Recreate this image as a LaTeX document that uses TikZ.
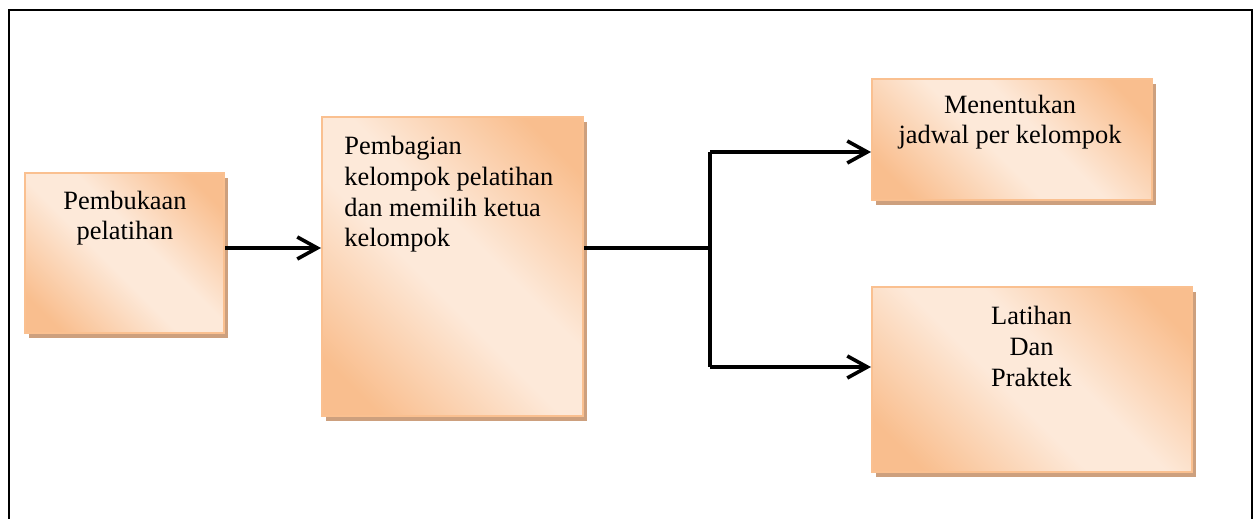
\documentclass[tikz,border=0pt]{standalone}
\usepackage{fontspec}
\setmainfont{Liberation Serif}
\usetikzlibrary{arrows.meta,shadows}
\definecolor{pkdark}{HTML}{F9BE8E}
\definecolor{pklight}{HTML}{FDE9D9}
\definecolor{pkborder}{HTML}{FAC090}
\definecolor{pkshadow}{HTML}{CDA07E}
\pgfdeclareverticalshading{peach}{100bp}{color(0bp)=(pkdark); color(22bp)=(pkdark); color(45bp)=(pklight); color(56bp)=(pklight); color(78bp)=(pkdark); color(100bp)=(pkdark)}
\tikzset{
  boxstyle/.style={rectangle, draw=pkborder, line width=1pt, shading=peach, shading angle=-45,
    drop shadow={shadow xshift=2pt, shadow yshift=-2.5pt, fill=pkshadow, opacity=1}, inner sep=0pt},
  txt/.style={font=\fontsize{13.2}{15.4}\selectfont, inner sep=0pt, anchor=base},
  conn/.style={line width=1.8pt, black},
  arr/.style={conn, -{Straight Barb[length=10pt,width=11pt,line join=miter]}},
}
\begin{document}
\begin{tikzpicture}[x=0.5pt,y=-0.5pt]
\useasboundingbox (0,0) rectangle (1254,519);
\draw[line width=1.2pt] (9,519) -- (9,10) -- (1252,10) -- (1252,519);
\node[boxstyle, minimum width=99.5pt, minimum height=80pt] (b1) at (124.5,253) {};
\node[boxstyle, minimum width=130.5pt, minimum height=149.5pt] (b2) at (452.5,266.5) {};
\node[boxstyle, minimum width=140pt, minimum height=60.5pt] (b3) at (1012,139.5) {};
\node[boxstyle, minimum width=160pt, minimum height=92.5pt] (b4) at (1032,379.5) {};
\node[txt, align=center] (t1) at (125,240) {Pembukaan\\pelatihan};
\node[txt, align=left, anchor=base west] (t2) at (344,247) {Pembagian\\kelompok pelatihan\\dan memilih ketua\\kelompok};
\node[txt, align=center] (t3) at (1010,144) {Menentukan\\jadwal per kelompok};
\node[txt, align=center] (t4) at (1031.5,386) {Latihan\\Dan\\Praktek};
\coordinate (j) at (710,248);
\coordinate (j1) at (710,152);
\coordinate (j2) at (710,367);
\draw[arr] (b1.east |- j) -- (b2.west |- j);
\draw[conn] (b2.east |- j) -- (j);
\draw[conn] (j1) -- (j2);
\draw[arr] (j1) -- (b3.west |- j1);
\draw[arr] (j2) -- (b4.west |- j2);
\end{tikzpicture}
\end{document}
